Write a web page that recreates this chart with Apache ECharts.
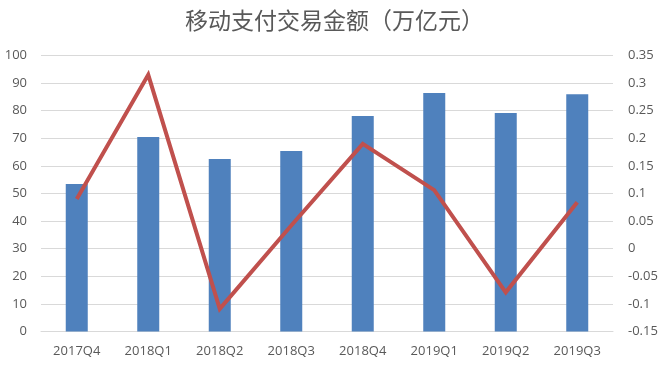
<!DOCTYPE html>
<html>
<head>
<meta charset="utf-8">
<script src="https://cdn.jsdelivr.net/npm/echarts@6/dist/echarts.min.js"></script>
<style>html,body{margin:0;padding:0;background:#fff}#c{width:669px;height:370px}</style>
</head>
<body>
<div id="c"></div>
<script>
var titleText = '移动支付交易金额（万亿元）';
var categories = ['2017Q4','2018Q1','2018Q2','2018Q3','2018Q4','2019Q1','2019Q2','2019Q3'];
var amounts = [53.4, 70.5, 62.5, 65.4, 78.1, 86.4, 79.2, 86.0];
var growth = [0.09, 0.315, -0.109, 0.042, 0.19, 0.106, -0.079, 0.084];

var chart = echarts.init(document.getElementById('c'), null, {renderer:'canvas'});
var labelFont = {color:'#595959', fontSize:13, fontFamily:'"Open Sans", "DejaVu Sans", sans-serif'};
chart.setOption({
  animation:false,
  backgroundColor:'#fff',
  title:{text:titleText, left:'center', top:4,
    textStyle:{color:'#595959', fontSize:23, fontWeight:'normal', fontFamily:'"Noto Sans CJK SC", sans-serif'}},
  grid:{left:41, right:56, top:55.5, bottom:38.5, containLabel:false},
  xAxis:{type:'category', data:categories,
    axisLine:{show:true, lineStyle:{color:'#d9d9d9'}}, axisTick:{show:false},
    axisLabel:Object.assign({margin:13}, labelFont)},
  yAxis:[
    {type:'value', min:0, max:100, interval:10,
     axisLine:{show:false}, axisTick:{show:false},
     splitLine:{lineStyle:{color:'#d9d9d9'}},
     axisLabel:Object.assign({margin:14}, labelFont)},
    {type:'value', min:-0.15, max:0.35, interval:0.05,
     axisLine:{show:false}, axisTick:{show:false}, splitLine:{show:false},
     axisLabel:Object.assign({margin:15, formatter:function(v){return String(Math.round(v*100)/100);}}, labelFont)}
  ],
  series:[
    {type:'bar', data:amounts, barWidth:22, itemStyle:{color:'#4f81bd'}, yAxisIndex:0},
    {type:'line', data:growth, yAxisIndex:1, symbol:'none',
     lineStyle:{color:'#c0504d', width:4, join:'miter'}, z:3}
  ]
});
</script>
</body>
</html>
